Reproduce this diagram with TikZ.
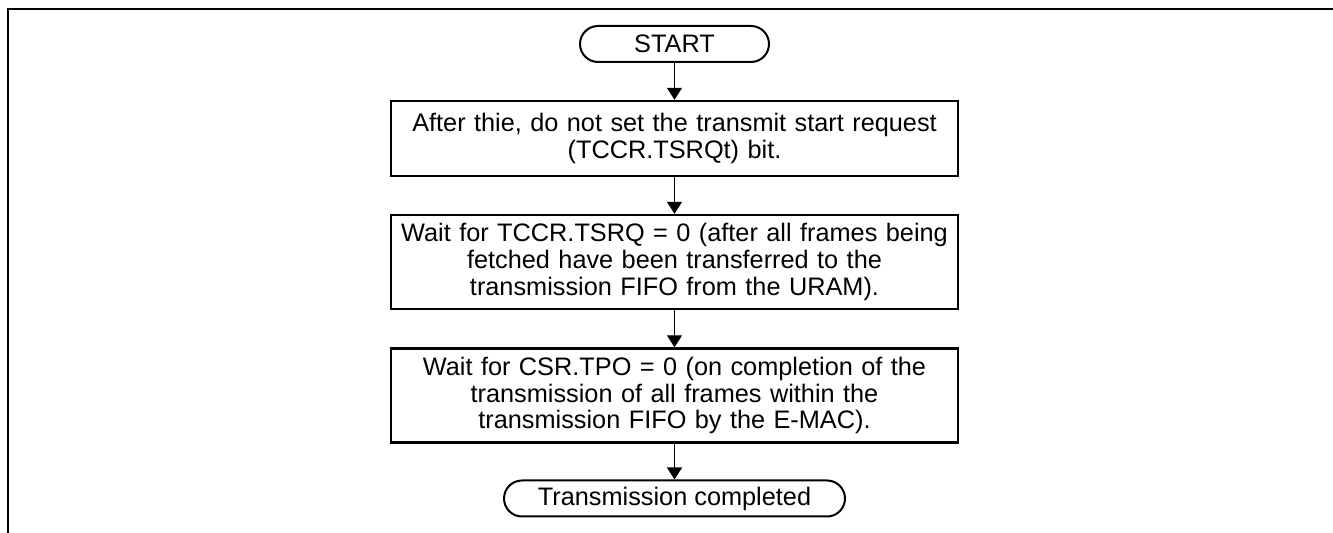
\documentclass[tikz,border=0pt]{standalone}
\usepackage{fontspec}
\setmainfont{Liberation Sans}
\usepackage{xcolor}
\usetikzlibrary{arrows.meta}
\usetikzlibrary{math}

\tikzset{
  proc/.style={draw, line width=1.2pt, minimum width=283.5pt, text width=280pt, align=center, inner sep=0pt, font=\fontsize{12.65}{13.4}\selectfont},
  term/.style={draw, line width=1pt, rounded corners=9pt, minimum height=18pt, inner sep=0pt, font=\fontsize{12.65}{13.4}\selectfont},
  flow/.style={-{Triangle[length=6pt,width=7.5pt]}, line width=0.65pt}
}

\begin{document}
\begin{tikzpicture}[x=1pt,y=1pt]
\tikzmath{
\cx=674.5*0.5;
\W=666.5;
\H=266.5;
}
\useasboundingbox (0,0) rectangle (\W,-\H);

% frame
\draw[line width=1.1pt] (\W,-4.5) -- (4.15,-4.5) -- (4.15,-\H);

\node[term, minimum width=94.5pt] (S) at (\cx,-22) {START};
\node[proc, minimum height=37.5pt] (B1) at (\cx,-69.25) {After thie, do not set the transmit start request\\(TCCR.TSRQt) bit.};
\node[proc, minimum height=47pt] (B2) at (\cx,-131) {Wait for TCCR.TSRQ = 0 (after all frames being\\fetched have been transferred to the\\transmission FIFO from the URAM).};
\node[proc, minimum height=47pt] (B3) at (\cx,-197.75) {Wait for CSR.TPO = 0 (on completion of the\\transmission of all frames within the\\transmission FIFO by the E-MAC).};
\node[term, minimum width=170.5pt] (E) at (\cx,-249.25) {Transmission completed};

\draw[flow] (S) -- (B1);
\draw[flow] (B1) -- (B2);
\draw[flow] (B2) -- (B3);
\draw[flow] (B3) -- (E);

\end{tikzpicture}
\end{document}
